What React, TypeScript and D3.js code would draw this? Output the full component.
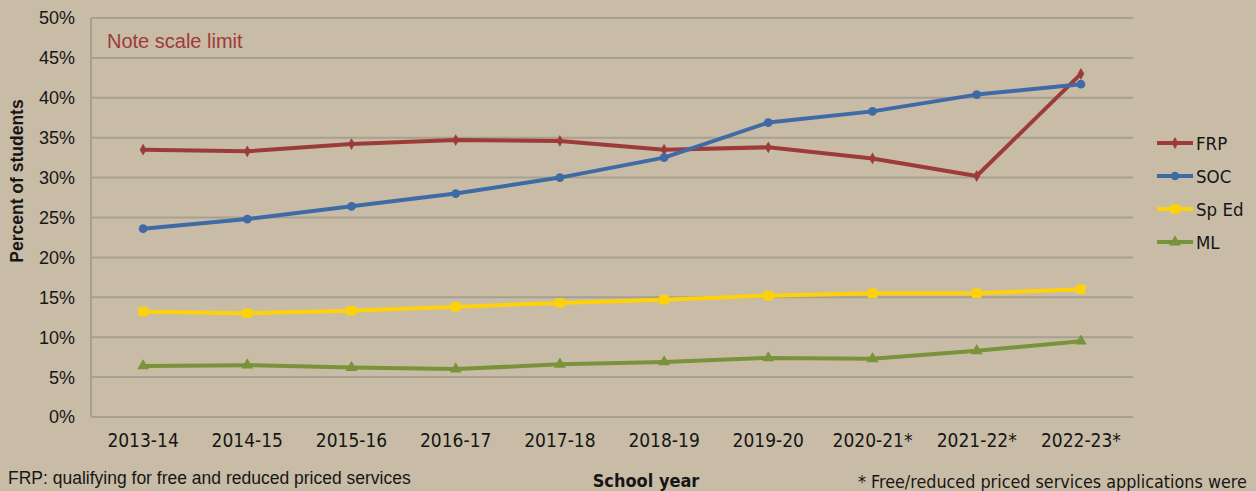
import * as d3 from 'd3';

const years = ['2013-14', '2014-15', '2015-16', '2016-17', '2017-18', '2018-19', '2019-20', '2020-21*', '2021-22*', '2022-23*'];
const frp = [33.5, 33.3, 34.2, 34.7, 34.6, 33.5, 33.8, 32.4, 30.2, 43.0];
const soc = [23.6, 24.8, 26.4, 28.0, 30.0, 32.5, 36.9, 38.3, 40.4, 41.7];
const spEd = [13.2, 13.0, 13.3, 13.8, 14.3, 14.7, 15.2, 15.5, 15.5, 16.0];
const ml = [6.4, 6.5, 6.2, 6.0, 6.6, 6.9, 7.4, 7.3, 8.3, 9.5];
const yTicks = [0, 5, 10, 15, 20, 25, 30, 35, 40, 45, 50];

const series = [
  { name: 'FRP', values: frp, color: '#9d3b3a', marker: 'diamond' },
  { name: 'SOC', values: soc, color: '#3f6aa6', marker: 'circle' },
  { name: 'Sp Ed', values: spEd, color: '#fdd20a', marker: 'square' },
  { name: 'ML', values: ml, color: '#789339', marker: 'triangle' },
];

const width = 1256;
const height = 491;
const plot = { left: 91, right: 1133, top: 18, bottom: 417 };
const narrow = "'Liberation Sans Narrow', 'DejaVu Sans Condensed', sans-serif";

const symbolType: Record<string, d3.SymbolType> = {
  diamond: d3.symbolDiamond,
  circle: d3.symbolCircle,
  square: d3.symbolSquare,
  triangle: d3.symbolTriangle,
};
const symbolSize: Record<string, number> = { diamond: 40, circle: 60, square: 90, triangle: 60 };

export default function App() {
  const x = d3.scaleBand().domain(years).range([plot.left, plot.right]);
  const y = d3.scaleLinear().domain([0, 50]).range([plot.bottom, plot.top]);
  const cx = (yr: string) => (x(yr) ?? 0) + x.bandwidth() / 2;

  const line = d3.line<number>()
    .x((_, i) => cx(years[i]))
    .y(d => y(d));

  return (
    <svg width={width} height={height} style={{ position: 'fixed', left: 0, top: 0, background: '#c8bca6' }}
      fontFamily="'Liberation Sans', Arial, sans-serif">
      <rect width={width} height={height} fill="#c8bca6" />
      {yTicks.map(t => (
        <g key={t}>
          {t > 0 && <line x1={plot.left} x2={plot.right} y1={y(t)} y2={y(t)} stroke="#a79f8f" strokeWidth={2} />}
          <text x={75} y={y(t)} dy="0.36em" textAnchor="end" fontSize={18} fill="#161616">{t}%</text>
        </g>
      ))}
      <line x1={plot.left} x2={plot.left} y1={plot.top} y2={plot.bottom} stroke="#a79f8f" strokeWidth={2} />
      <line x1={plot.left} x2={plot.right} y1={plot.bottom} y2={plot.bottom} stroke="#a79f8f" strokeWidth={2} />

      {years.map(yr => (
        <text key={yr} x={cx(yr)} y={447} textAnchor="middle" fontSize={19}
          fontFamily={narrow} fill="#161616">{yr}</text>
      ))}

      {series.map(s => (
        <g key={s.name}>
          <path d={line(s.values) ?? ''} fill="none" stroke={s.color} strokeWidth={4} strokeLinejoin="round" />
          {s.values.map((v, i) => (
            <path key={i} transform={`translate(${cx(years[i])},${y(v)})`}
              d={d3.symbol().type(symbolType[s.marker]).size(symbolSize[s.marker])() ?? ''} fill={s.color} />
          ))}
        </g>
      ))}

      {series.map((s, i) => {
        const ly = 143 + i * 33;
        return (
          <g key={s.name}>
            <line x1={1157} x2={1193} y1={ly} y2={ly} stroke={s.color} strokeWidth={4} />
            <path transform={`translate(1175,${ly})`}
              d={d3.symbol().type(symbolType[s.marker]).size(symbolSize[s.marker])() ?? ''} fill={s.color} />
            <text x={1196} y={ly} dy="0.36em" fontSize={18.5} fill="#161616" fontFamily={narrow}>{s.name}</text>
          </g>
        );
      })}

      <text x={107} y={48} fontSize={20} fill="#a0393a">Note scale limit</text>
      <text transform="translate(23,181) rotate(-90)" textAnchor="middle" fontSize={17.5} fontWeight="bold" fill="#161616">Percent of students</text>
      <text x={646} y={487} textAnchor="middle" fontSize={18} fontWeight="bold"
        fontFamily={narrow} fill="#161616">School year</text>
      <text x={8} y={484} fontSize={17.5} fill="#161616">FRP: qualifying for free and reduced priced services</text>
      <text x={858} y={488} fontSize={17.8} fill="#161616" fontFamily={narrow}>* Free/reduced priced services applications were</text>
    </svg>
  );
}
